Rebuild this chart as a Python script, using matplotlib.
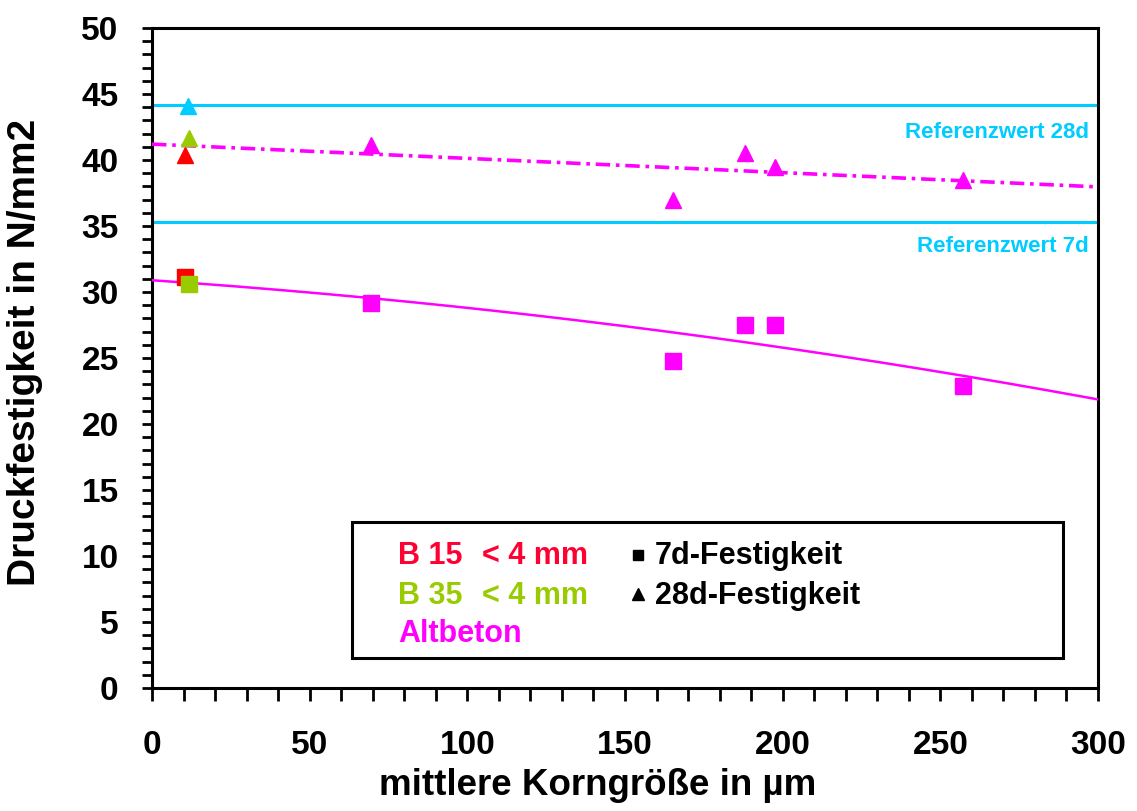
import matplotlib
matplotlib.use("Agg")
import matplotlib.pyplot as plt
from matplotlib.patches import Rectangle
import numpy as np

plt.rcParams['font.family'] = ['Liberation Sans', 'DejaVu Sans']
plt.rcParams['font.weight'] = 'bold'

# mean grain size (µm) and compressive strength (N/mm2)
b15_x = [10.5]
b15_7d = [31.1]
b15_28d = [40.4]

b35_x = [11.7]
b35_7d = [30.6]
b35_28d = [41.7]

ref28_x = [11.4]
ref28_y = [44.1]

alt_x = [69.5, 165.2, 188.0, 197.6, 257.3]
alt_7d = [29.2, 24.8, 27.5, 27.5, 22.9]
alt_28d = [41.1, 37.0, 40.5, 39.5, 38.5]

ref_28d = 44.2
ref_7d = 35.3

RED = "#FF0000"
RED_TXT = "#FF0033"
GREEN = "#99CC00"
MAG = "#FF00FF"
CYAN = "#00CCFF"

fig = plt.figure(figsize=(11.37, 8.11), dpi=100)
ax = fig.add_axes([152 / 1137, 1 - 688 / 811, (1098 - 152) / 1137, (688 - 28) / 811])

# reference lines
ax.axhline(ref_28d, color=CYAN, lw=2.2, zorder=2)
ax.axhline(ref_7d, color=CYAN, lw=2.2, zorder=2)
ax.text(297, 41.7, "Referenzwert 28d", color=CYAN, fontsize=16, ha="right", va="baseline")
ax.text(297, 33.0, "Referenzwert 7d", color=CYAN, fontsize=16, ha="right", va="baseline")

# trend lines fitted through all points of each age
xs = np.linspace(0, 300, 200)
c7 = np.polyfit(b15_x + b35_x + alt_x, b15_7d + b35_7d + alt_7d, 2)
c28 = np.polyfit(b15_x + b35_x + alt_x, b15_28d + b35_28d + alt_28d, 1)
ax.plot(xs, np.polyval(c7, xs), color=MAG, lw=1.8, zorder=3)
ax.plot(xs, np.polyval(c28, xs), color=MAG, lw=2.6, dashes=(4, 1.6, 1, 1.6), zorder=3)

ms = 11
ax.plot(b15_x, b15_7d, "s", color=RED, ms=ms, zorder=4)
ax.plot(b35_x, b35_7d, "s", color=GREEN, ms=ms, zorder=5)
ax.plot(alt_x, alt_7d, "s", color=MAG, ms=ms, zorder=4)
ax.plot(b15_x, b15_28d, "^", color=RED, ms=ms + 1, zorder=4)
ax.plot(b35_x, b35_28d, "^", color=GREEN, ms=ms + 1, zorder=4)
ax.plot(ref28_x, ref28_y, "^", color=CYAN, ms=ms + 1, zorder=4)
ax.plot(alt_x, alt_28d, "^", color=MAG, ms=ms + 1, zorder=4)

ax.set_xlim(0, 300)
ax.set_ylim(0, 50)
ax.set_xticks(np.arange(0, 301, 50))
ax.set_xticks(np.arange(0, 301, 10), minor=True)
ax.set_yticks(np.arange(0, 51, 5))
ax.set_yticks(np.arange(0, 51, 1), minor=True)
for s in ax.spines.values():
    s.set_linewidth(2.2)
ax.tick_params(axis="x", which="both", direction="out", length=9.5, width=2, pad=21, labelsize=24)
ax.tick_params(axis="y", which="both", direction="out", length=7, width=2, pad=17, labelsize=24)

ax.set_xlabel("mittlere Korngröße in µm", fontsize=26.5, fontweight="bold")
ax.set_ylabel("Druckfestigkeit in N/mm2", fontsize=28, fontweight="bold")
ax.xaxis.set_label_coords(0.4715, -0.121)
ax.yaxis.set_label_coords(-0.1152, 0.508)

# legend box drawn by hand
ax.add_patch(Rectangle((352, 153), 1063 - 352, 659 - 523, transform=None,
                       facecolor="white", edgecolor="black", lw=2.2, zorder=6))
fs = 22
fig.text(398 / 1137, 1 - 564 / 811, "B 15", color=RED_TXT, fontsize=fs, zorder=7)
fig.text(482 / 1137, 1 - 564 / 811, "< 4 mm", color=RED_TXT, fontsize=fs, zorder=7)
fig.text(398 / 1137, 1 - 604 / 811, "B 35", color=GREEN, fontsize=fs, zorder=7)
fig.text(482 / 1137, 1 - 604 / 811, "< 4 mm", color=GREEN, fontsize=fs, zorder=7)
fig.text(398 / 1137, 1 - 642 / 811, "Altbeton", color=MAG, fontsize=fs, zorder=7)
fig.text(655 / 1137, 1 - 564 / 811, "7d-Festigkeit", color="black", fontsize=fs, zorder=7)
fig.text(655 / 1137, 1 - 604 / 811, "28d-Festigkeit", color="black", fontsize=fs, zorder=7)
fig.lines.append(plt.Line2D([638 / 1137], [1 - 555 / 811], marker="s", color="black", ms=7,
                            transform=fig.transFigure, zorder=7))
fig.lines.append(plt.Line2D([638 / 1137], [1 - 594 / 811], marker="^", color="black", ms=8,
                            transform=fig.transFigure, zorder=7))

fig.savefig("out.png", dpi=100)
